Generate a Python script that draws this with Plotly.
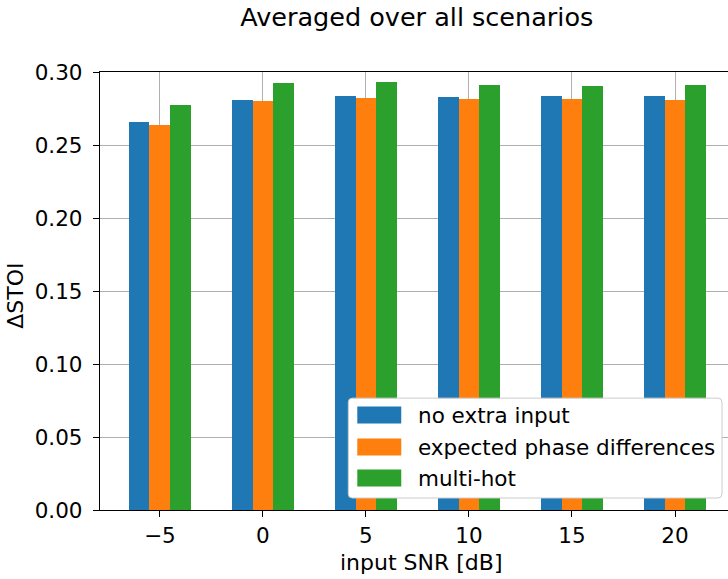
import plotly.graph_objects as go

snr_labels = ["\u22125", "0", "5", "10", "15", "20"]
series_names = ["no extra input", "expected phase differences", "multi-hot"]
no_extra = [0.2658, 0.2808, 0.2836, 0.2829, 0.2836, 0.2836]
phase_diff = [0.2637, 0.2801, 0.2822, 0.2815, 0.2815, 0.2808]
multi_hot = [0.2774, 0.2925, 0.2932, 0.2911, 0.2904, 0.2911]
series_values = [no_extra, phase_diff, multi_hot]
colors = ["#1f77b4", "#ff7f0e", "#2ca02c"]
offsets = [-0.2, 0.0, 0.2]

W, H = 728, 579
L, R, T, B = 99.5, 0, 71.5, 69
font = "DejaVu Sans"
TICK = 21.5
LAB = 22

fig = go.Figure()
idx = list(range(len(snr_labels)))
for name, vals, col, off in zip(series_names, series_values, colors, offsets):
    fig.add_trace(go.Bar(
        x=[i + off for i in idx], y=vals, name=name, width=0.2,
        marker=dict(color=col, line=dict(width=0)), showlegend=False,
    ))

fig.update_layout(
    width=W, height=H,
    margin=dict(l=L, r=R, t=T, b=B),
    plot_bgcolor="white", paper_bgcolor="white",
    font=dict(family=font, size=TICK, color="black"),
    title=dict(text="Averaged over all scenarios", x=(L + 734) / 2 / W, xanchor="center",
               y=1 - 17 / H, yanchor="middle", font=dict(size=25.5)),
    bargap=0, barmode="overlay",
)
fig.update_xaxes(
    range=[-0.58, 5.514], tickmode="array", tickvals=idx, ticktext=snr_labels,
    showgrid=True, gridcolor="#b0b0b0", gridwidth=1,
    showline=True, linecolor="black", linewidth=1.3, mirror=True,
    ticks="outside", ticklen=6, tickcolor="black", zeroline=False,
    tickfont=dict(size=TICK), layer="above traces",
)
fig.update_yaxes(
    range=[0, 0.30], tickmode="array", tickvals=[0, 0.05, 0.10, 0.15, 0.20, 0.25, 0.30],
    ticktext=["0.00", "0.05", "0.10", "0.15", "0.20", "0.25", "0.30"],
    showgrid=True, gridcolor="#b0b0b0", gridwidth=1,
    showline=True, linecolor="black", linewidth=1.3, mirror=False,
    ticks="outside", ticklen=6, tickcolor="black", zeroline=False,
    tickfont=dict(size=TICK), ticklabelstandoff=6, layer="above traces",
)

pw = W - L - R
ph = H - T - B
def px(x):
    return (x - L) / pw
def py(y):
    return 1 - (y - T) / ph

# axis titles
fig.add_annotation(text="input SNR [dB]", xref="paper", yref="paper", x=px(421), y=py(563),
                   xanchor="center", yanchor="middle", showarrow=False, font=dict(size=LAB))
fig.add_annotation(text="\u0394STOI", xref="paper", yref="paper", x=px(15), y=py(296),
                   xanchor="center", yanchor="middle", showarrow=False, textangle=-90,
                   font=dict(size=LAB))

x0, x1, y0, y1, r = 348, 722, 398, 498, 4
path = (f"M {px(x0+r)},{py(y0)} L {px(x1-r)},{py(y0)} Q {px(x1)},{py(y0)} {px(x1)},{py(y0+r)} "
        f"L {px(x1)},{py(y1-r)} Q {px(x1)},{py(y1)} {px(x1-r)},{py(y1)} "
        f"L {px(x0+r)},{py(y1)} Q {px(x0)},{py(y1)} {px(x0)},{py(y1-r)} "
        f"L {px(x0)},{py(y0+r)} Q {px(x0)},{py(y0)} {px(x0+r)},{py(y0)} Z")
fig.add_shape(type="path", path=path, xref="paper", yref="paper",
              fillcolor="white", line=dict(color="#cccccc", width=1), layer="above")
rows = [415, 447, 478]
for name, col, yc in zip(series_names, colors, rows):
    fig.add_shape(type="rect", xref="paper", yref="paper",
                  x0=px(357), x1=px(401), y0=py(yc - 8.5), y1=py(yc + 8.5),
                  fillcolor=col, line=dict(width=0), layer="above")
    fig.add_annotation(text=name, xref="paper", yref="paper", x=px(416), y=py(yc),
                       xanchor="left", yanchor="middle", showarrow=False,
                       font=dict(size=21.5, family=font))

fig.write_html("out.html", config={"displayModeBar": False},
               post_script="document.body.style.margin='0';")
